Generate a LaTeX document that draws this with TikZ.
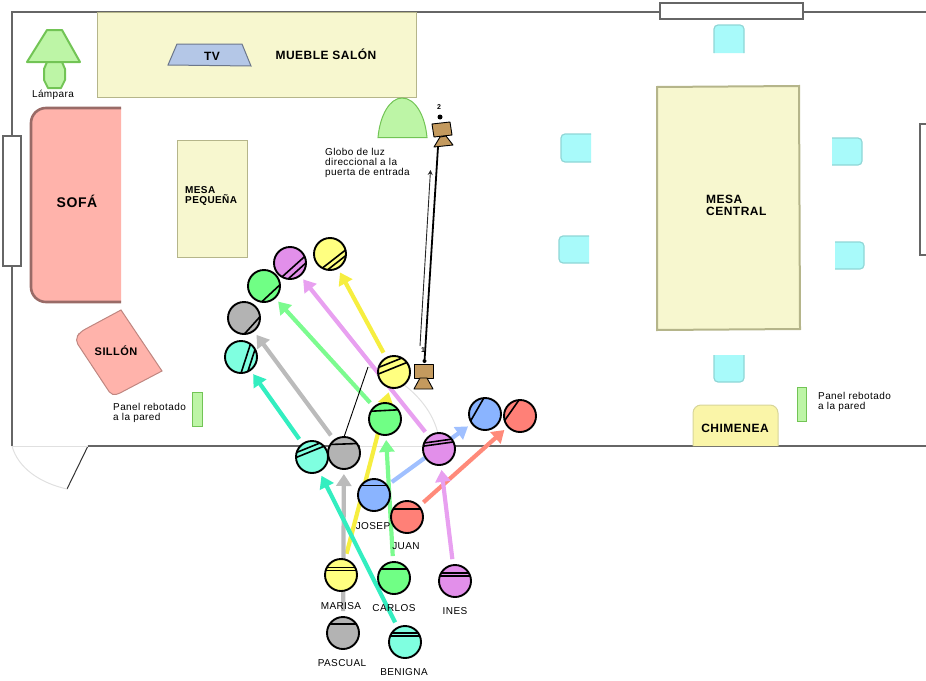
\documentclass[tikz,border=0pt]{standalone}
\usepackage{fontspec}
\setmainfont[LetterSpace=4]{Liberation Sans}
\usetikzlibrary{arrows.meta,backgrounds}
\definecolor{crema}{HTML}{F7F7CF}
\definecolor{cremaborde}{HTML}{B5B58A}
\definecolor{rosa}{HTML}{FFB3AB}
\definecolor{verdeclaro}{HTML}{BDF5A6}
\definecolor{verdeborde}{HTML}{72C455}
\definecolor{cian}{HTML}{A8FAFA}
\definecolor{cianborde}{HTML}{8FD6D6}
\definecolor{madera}{HTML}{C49A5E}
\definecolor{muro}{HTML}{666666}
\definecolor{pantalla}{HTML}{B4C7E7}
\definecolor{fuego}{HTML}{FAF5A8}
\definecolor{pazul}{HTML}{8AB4FF}
\definecolor{projo}{HTML}{FF8077}
\definecolor{pamarillo}{HTML}{FFFF80}
\definecolor{pverde}{HTML}{70FF85}
\definecolor{plila}{HTML}{E28FEA}
\definecolor{pgris}{HTML}{B3B3B3}
\definecolor{pturquesa}{HTML}{7FFFE0}
\definecolor{fazul}{HTML}{A0C0FF}
\definecolor{fama}{HTML}{F6EE40}
\definecolor{fverde}{HTML}{7CFB8F}
\definecolor{flila}{HTML}{E8A0F0}
\definecolor{fgris}{HTML}{BBBBBB}
\definecolor{fturq}{HTML}{33EEC0}
\definecolor{frojo}{HTML}{FF8A7A}
\tikzset{
  muebleclaro/.style={fill=crema,draw=cremaborde,line width=1},
  silla/.style={fill=cian,draw=none},
  sillaborde/.style={draw=cianborde,line width=1.2,rounded corners=4},
  panel/.style={fill=verdeclaro,draw=verdeborde,line width=1},
  ventana/.style={fill=white,draw=muro,line width=1.5},
  texto/.style={font=\fontsize{10}{10}\selectfont,align=left,inner sep=0,anchor=west},
  nombre/.style={font=\fontsize{10}{10}\selectfont,inner sep=0},
  rotulo/.style={font=\bfseries\fontsize{#1}{#1}\selectfont,align=left,inner sep=0},
  persona/.style={circle,draw=black,line width=1.9,minimum size=32,inner sep=0,outer sep=0},
  flecha/.style={line width=4.2,shorten <=6,shorten >=5,-{Triangle[length=12,width=15]}},
  camara/.style={fill=madera,draw=black,line width=0.9,line join=round}
}
% nombre, x, y, color, giro, distancias de las rayas
\newcommand{\persona}[6]{%
  \node[persona,fill=#4] (#1) at (#2,#3) {};
  \begin{scope}[shift={(#1.center)},rotate=#5]
    \clip (0,0) circle (16);
    \foreach \d in {#6} \draw[line width=1.6] (-20,-\d) -- (20,-\d);
  \end{scope}
}
\begin{document}
\begin{tikzpicture}[x=1pt,y=-1pt]
\useasboundingbox (0,0) rectangle (926,680);
\begin{pgfonlayer}{background}
% paredes
\draw[muro,line width=1.6] (926,12) -- (12,12) -- (12,446);
\draw[muro,line width=1.6] (88,446) -- (360,446);
\draw[muro,line width=1.6] (426,446) -- (926,446);
\draw[black!80,line width=1] (88,446) -- (67,489);
\draw[black!12,line width=1] (12,446) -- (88,446);
\draw[black!12,line width=1] (12,446) .. controls (18,468) and (40,483) .. (67,489);
\draw[black!12,line width=1] (360,446) -- (426,446);
\draw[black!12,line width=1] (368,367) .. controls (400,375) and (435,405) .. (439,440);
\end{pgfonlayer}
\draw[ventana] (3,136) rectangle (21,266);
\draw[ventana] (660,3) rectangle (803,19);
\fill[white] (920,124) rectangle (926,255);
\draw[muro,line width=1.5] (926,124) -- (920,124) -- (920,255) -- (926,255);
% muebles
\draw[muebleclaro] (97,12) rectangle (416,97);
\draw[fill=pantalla,draw=pantalla!60!black,line width=1] (168,65) -- (177,44) -- (242,44) -- (251,66) -- cycle;
\node[rotulo=12] (tv) at (212,56) {TV};
\node[rotulo=12] (mueble) at (326,54) {MUEBLE SALÓN};
\draw[fill=verdeclaro,draw=verdeborde,line width=2,line join=round] (47,30) -- (62,30) -- (80,62) -- (27,62) -- cycle;
\draw[fill=verdeclaro,draw=verdeborde,line width=2,line join=round] (47,62) -- (62,62) -- (65,69) -- (65,80) -- (61,88) -- (48,88) -- (44,80) -- (44,69) -- cycle;
\node[nombre] (lampara) at (53,95) {Lámpara};
\draw[fill=rosa,draw=rosa!60!black,line width=2.6,rounded corners=15] (121,108) -- (31,108) -- (31,302) -- (121,302);
\node[rotulo=14] (sofa) at (77,201) {SOFÁ};
\draw[muebleclaro] (177,140) rectangle (247,257);
\node[rotulo=10,anchor=west] (mesapeq) at (185,196) {MESA\\PEQUEÑA};
\draw[fill=rosa,draw=rosa!75!black,line width=1] (121,310) -- (162,371) -- (120,393) [rounded corners=5] -- (112,396) -- (75,340) -- (80,332) [sharp corners] -- cycle;
\node[rotulo=11] (sillon) at (116,351) {SILLÓN};
\draw[panel] (192,392) rectangle (202,426);
\node[texto] (panel1) at (113,413) {Panel rebotado\\a la pared};
\draw[fill=verdeclaro,draw=verdeborde,line width=1] (378,137.5) .. controls (380,115) and (390,98) .. (402,98) .. controls (415,98) and (425,115) .. (427,137.5) -- cycle;
\node[texto] (globo) at (325,163) {Globo de luz\\direccional a la\\puerta de entrada};
\draw[panel] (797,387) rectangle (806,421);
\node[texto] (panel2) at (818,402) {Panel rebotado\\a la pared};
\draw[fill=fuego,draw=cremaborde!50!fuego,line width=1,rounded corners=8] (693,446) -- (693,405) -- (778,405) -- (778,446);
\node[rotulo=12] (chimenea) at (735,428) {CHIMENEA};
\draw[fill=crema,draw=cremaborde,line width=2] (657,87) -- (799,86) -- (800,329) -- (657,330) -- cycle;
\node[rotulo=12,anchor=west] (mesacen) at (706,205.5) {MESA\\CENTRAL};
% sillas
\fill[silla,rounded corners=5] (714,53) -- (714,25) -- (744,25) -- (744,53);
\draw[sillaborde] (714,53) -- (714,25) -- (744,25) -- (744,53);
\fill[silla,rounded corners=5] (714,355) -- (714,382) -- (744,382) -- (744,355);
\draw[sillaborde] (714,355) -- (714,382) -- (744,382) -- (744,355);
\fill[silla,rounded corners=5] (832,138) -- (862,138) -- (862,165) -- (832,165);
\draw[sillaborde] (832,138) -- (862,138) -- (862,165) -- (832,165);
\fill[silla,rounded corners=5] (835,242) -- (864,242) -- (864,269) -- (835,269);
\draw[sillaborde] (835,242) -- (864,242) -- (864,269) -- (835,269);
\fill[silla,rounded corners=5] (591,134) -- (561,134) -- (561,162) -- (591,162);
\draw[sillaborde] (591,134) -- (561,134) -- (561,162) -- (591,162);
\fill[silla,rounded corners=5] (589,236) -- (559,236) -- (559,263) -- (589,263);
\draw[sillaborde] (589,236) -- (559,236) -- (559,263) -- (589,263);
% camaras
\draw[camara] (432,124) -- (450,122) -- (452,135) -- (434,137) -- cycle;
\draw[camara] (440,137) -- (446,136) -- (453,145) -- (434,147) -- cycle;
\draw[camara] (414,364) -- (433,364) -- (433,378) -- (414,378) -- cycle;
\draw[camara] (420,378) -- (427,378) -- (433,389) -- (414,389) -- cycle;
\node[circle,fill=black,inner sep=0,minimum size=5] (punto2) at (440,117) {};
\node[circle,fill=black,inner sep=0,minimum size=4] (punto1) at (424.5,361) {};
\node[rotulo=7] (num2) at (439,107) {2};
\node[rotulo=7] (num1) at (423,350) {1};
\coordinate (base2) at (438,147);
\coordinate (globoini) at (420,346);
\coordinate (globofin) at (430.5,170);
\coordinate (hoja) at (368,367);
\draw[black,line width=1.8] (base2) -- (punto1);
\draw[black!85,line width=0.9,-{Stealth[length=5,width=5]}] (globoini) -- (globofin);
% personas en la calle
\persona{josep}{374}{495}{pazul}{0}{9.5}
\persona{juan}{407}{517}{projo}{0}{8}
\persona{marisa}{341}{575}{pamarillo}{0}{7.5,4.5}
\persona{carlos}{394}{578}{pverde}{0}{9}
\persona{ines}{455}{581}{plila}{0}{8,5}
\persona{pascual}{343}{633}{pgris}{0}{9}
\persona{benigna}{405}{642}{pturquesa}{0}{9,6}
% personas en la puerta
\persona{benignados}{312}{457}{pturquesa}{22}{10,5.5}
\persona{pascualdos}{344}{453}{pgris}{2}{9}
\persona{inesdos}{439}{449}{plila}{8}{8,5}
\persona{carlosdos}{385}{419}{pverde}{3}{8.5}
\persona{marisados}{394}{372}{pamarillo}{22}{10,4}
\persona{josepdos}{485}{414}{pazul}{60}{9}
\persona{juandos}{520}{416}{projo}{55}{10}
% personas dentro
\persona{benignatres}{241}{357}{pturquesa}{-108}{5,11}
\persona{pascualtres}{244}{318}{pgris}{-132}{11}
\persona{carlostres}{264}{286}{pverde}{-137}{10}
\persona{inestres}{290}{263}{plila}{-138}{5,10.6}
\persona{marisatres}{330}{254}{pamarillo}{-142}{6.4,11}
\begin{pgfonlayer}{background}
\draw[flecha,fazul] (josep) -- (josepdos);
\draw[flecha,frojo] (juan) -- (juandos);
\draw[flecha,fama] (marisa) -- (marisados);
\draw[flecha,fverde] (carlos) -- (carlosdos);
\draw[flecha,flila] (ines) -- (inesdos);
\draw[flecha,fgris] (pascual) -- (pascualdos);
\draw[flecha,fturq] (benigna) -- (benignados);
\draw[flecha,fturq] (benignados) -- (benignatres);
\draw[flecha,fgris] (pascualdos) -- (pascualtres);
\draw[flecha,fverde] (carlosdos) -- (carlostres);
\draw[flecha,flila] (inesdos) -- (inestres);
\draw[flecha,fama] (marisados) -- (marisatres);
\end{pgfonlayer}
\draw[black,line width=0.9] (pascualdos.north) -- (hoja);
% nombres
\node[nombre] (njosep) at (373,526) {JOSEP};
\node[nombre] (njuan) at (406,546) {JUAN};
\node[nombre] (nmarisa) at (341,606) {MARISA};
\node[nombre] (ncarlos) at (394,608) {CARLOS};
\node[nombre] (nines) at (455,611) {INES};
\node[nombre] (npascual) at (342,663) {PASCUAL};
\node[nombre] (nbenigna) at (404,672) {BENIGNA};
\end{tikzpicture}
\end{document}
